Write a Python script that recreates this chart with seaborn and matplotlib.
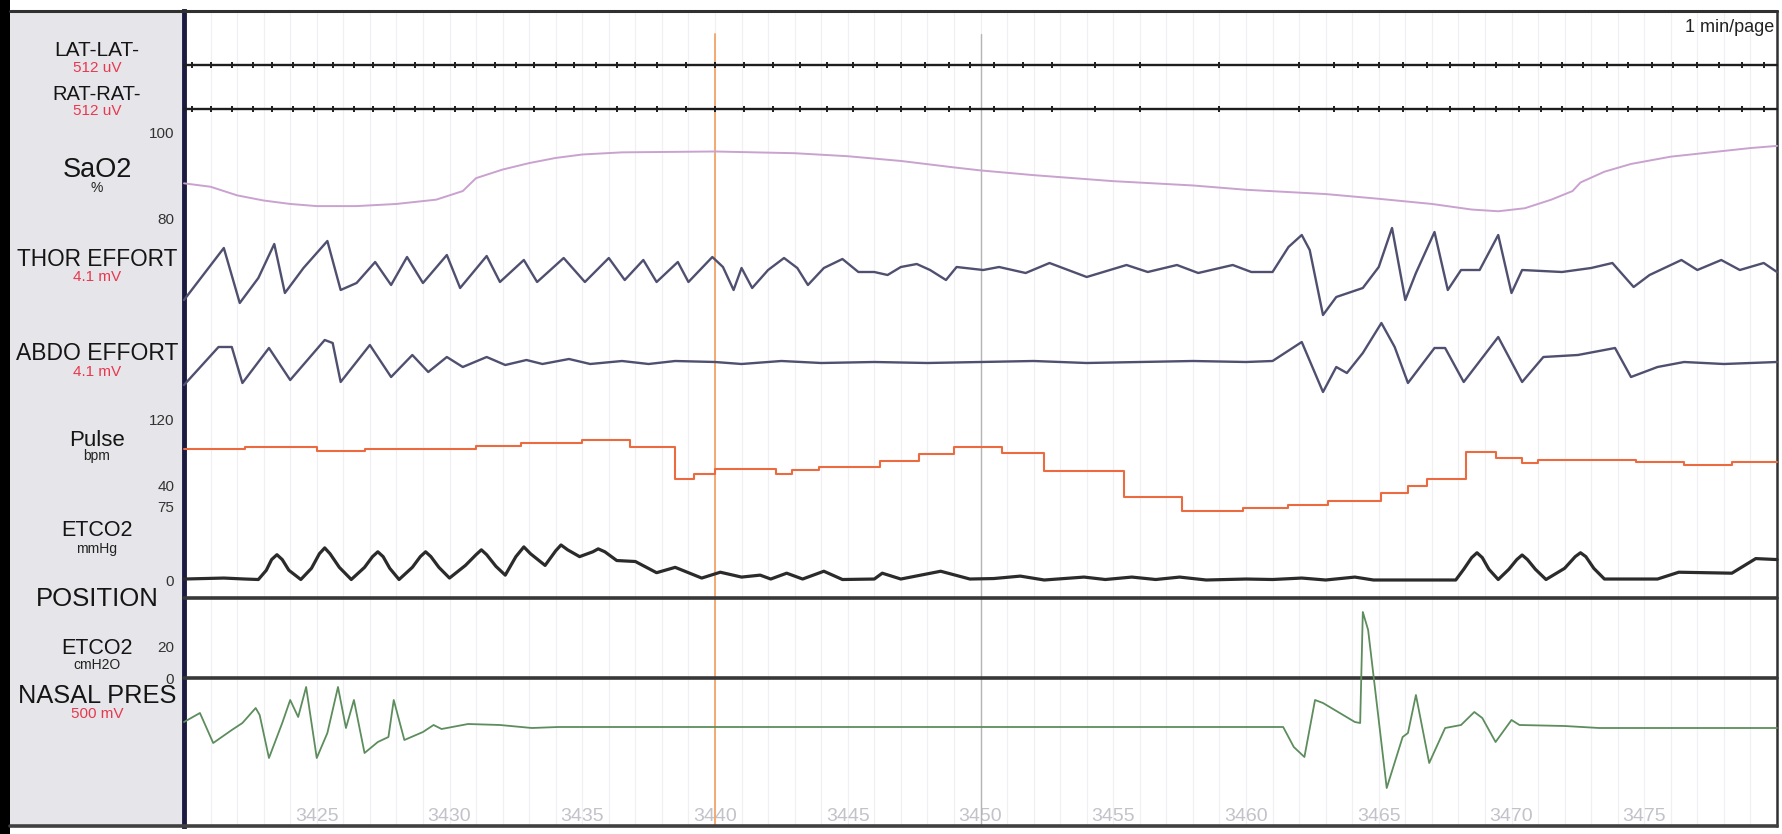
import numpy as np
import pandas as pd
import matplotlib
matplotlib.use("Agg")
import matplotlib.pyplot as plt
from matplotlib.patches import Rectangle
from matplotlib.lines import Line2D
import seaborn as sns

# ------------------------------------------------------------------ data
x_ticks = [3425, 3430, 3435, 3440, 3445, 3450, 3455, 3460, 3465, 3470, 3475]
x_range = [3420, 3480]
cursor_times = [3440, 3450]

channel_names = ["LAT-LAT-", "RAT-RAT-", "SaO2", "THOR EFFORT", "ABDO EFFORT",
                 "Pulse", "ETCO2", "POSITION", "ETCO2", "NASAL PRES"]
channel_units = ["512 uV", "512 uV", "%", "4.1 mV", "4.1 mV",
                 "bpm", "mmHg", "", "cmH2O", "500 mV"]
unit_red = [True, True, False, True, True, False, False, False, False, True]

# ECG artefact blips seen on the leg EMG channels (s)
ecg_blip_t = [3420.3, 3421.0, 3421.8, 3422.6, 3423.3, 3424.1, 3424.9, 3425.6, 3426.4,
              3427.1, 3427.9, 3428.7, 3429.4, 3430.2, 3430.9, 3431.7, 3432.5, 3433.2,
              3434.0, 3434.7, 3435.5, 3436.3, 3437.0, 3437.8, 3438.9, 3440.0, 3441.1,
              3442.2, 3443.2, 3444.2, 3445.2, 3446.1, 3447.0, 3447.9, 3448.8, 3449.6,
              3450.5, 3451.6, 3452.7, 3454.3, 3456.0, 3459.0, 3462.0, 3463.3, 3464.2,
              3465.0, 3465.9, 3466.8, 3467.7, 3468.6, 3469.4, 3470.3, 3471.1, 3471.9,
              3472.7, 3473.6, 3474.4, 3475.3, 3476.1, 3477.0, 3477.8, 3478.7, 3479.5]

sao2_t = [3420.0, 3421.0, 3422.0, 3423.0, 3424.0, 3425.0, 3426.5, 3428.0, 3429.5, 3430.5,
          3431.0, 3432.0, 3433.0, 3434.0, 3435.0, 3436.5, 3440.0, 3443.0, 3445.0, 3447.0,
          3449.0, 3450.0, 3452.0, 3455.0, 3458.0, 3460.0, 3463.0, 3465.0, 3467.0, 3468.5,
          3469.5, 3470.5, 3471.5, 3472.3, 3472.6, 3473.5, 3474.5, 3476.0, 3477.5, 3479.0,
          3480.0]
sao2_v = [88.3, 87.5, 85.5, 84.3, 83.5, 83.0, 83.0, 83.5, 84.5, 86.5,
          89.5, 91.5, 93.0, 94.2, 95.0, 95.5, 95.7, 95.3, 94.6, 93.5,
          92.0, 91.3, 90.2, 88.8, 87.8, 86.8, 85.8, 84.7, 83.5, 82.2,
          81.8, 82.5, 84.5, 86.5, 88.5, 91.0, 92.8, 94.5, 95.5, 96.5,
          97.0]

thor_t = [3420.0, 3421.5, 3422.1, 3422.8, 3423.4, 3423.8, 3424.5, 3425.4, 3425.9, 3426.5,
          3427.2, 3427.8, 3428.4, 3429.0, 3429.9, 3430.4, 3431.4, 3431.9, 3432.8, 3433.3,
          3434.3, 3435.1, 3436.0, 3436.6, 3437.3, 3437.8, 3438.6, 3439.0, 3439.9, 3440.3,
          3440.7, 3441.0, 3441.4, 3442.0, 3442.6, 3443.1, 3443.5, 3444.1, 3444.8, 3445.4,
          3446.0, 3446.5, 3447.0, 3447.6, 3448.1, 3448.7, 3449.1, 3450.1, 3450.7, 3451.7,
          3452.6, 3454.0, 3455.5, 3456.3, 3457.4, 3458.2, 3459.5, 3460.2, 3461.0, 3461.6,
          3462.1, 3462.4, 3462.9, 3463.4, 3464.4, 3465.0, 3465.5, 3466.0, 3466.4, 3467.1,
          3467.6, 3468.1, 3468.8, 3469.5, 3470.0, 3470.4, 3471.9, 3473.0, 3473.8, 3474.6,
          3475.2, 3476.4, 3477.0, 3477.9, 3478.6, 3479.5, 3480.0]
thor_v = [-1.5, 1.1, -1.65, -0.4, 1.3, -1.15, 0.1, 1.45, -1.0, -0.65,
          0.4, -0.75, 0.65, -0.65, 0.75, -0.9, 0.7, -0.6, 0.5, -0.6,
          0.6, -0.6, 0.6, -0.5, 0.5, -0.6, 0.4, -0.6, 0.65, 0.15,
          -1.0, 0.1, -0.9, 0.0, 0.6, 0.1, -0.75, 0.1, 0.55, -0.1,
          -0.1, -0.25, 0.15, 0.3, 0.0, -0.5, 0.15, 0.0, 0.15, -0.15,
          0.35, -0.35, 0.25, -0.1, 0.25, -0.15, 0.25, -0.1, -0.1, 1.15,
          1.75, 1.0, -2.25, -1.35, -0.9, 0.15, 2.1, -1.5, -0.15, 1.9,
          -1.0, 0.0, 0.0, 1.75, -1.15, 0.0, -0.1, 0.1, 0.35, -0.85,
          -0.25, 0.5, 0.0, 0.5, 0.0, 0.35, -0.1]

abdo_t = [3420.0, 3421.3, 3421.8, 3422.2, 3423.2, 3424.0, 3425.3, 3425.6, 3425.9, 3427.0,
          3427.8, 3428.6, 3429.2, 3429.9, 3430.5, 3431.4, 3432.1, 3432.9, 3433.5, 3434.5,
          3435.3, 3436.5, 3437.5, 3438.5, 3440.0, 3441.0, 3442.5, 3444.0, 3446.0, 3448.0,
          3450.0, 3452.0, 3454.0, 3456.0, 3458.0, 3460.0, 3461.0, 3462.1, 3462.9, 3463.4,
          3463.8, 3464.4, 3465.1, 3465.6, 3466.1, 3467.1, 3467.5, 3468.2, 3469.5, 3470.4,
          3471.2, 3472.5, 3473.9, 3474.5, 3475.5, 3476.5, 3478.0, 3480.0]
abdo_v = [-1.15, 0.75, 0.75, -1.05, 0.7, -0.9, 1.1, 0.95, -1.0, 0.85,
          -0.75, 0.35, -0.5, 0.25, -0.25, 0.25, -0.15, 0.1, -0.1, 0.15,
          -0.1, 0.05, -0.1, 0.05, 0.0, -0.1, 0.05, -0.05, 0.0, -0.05,
          0.0, 0.05, -0.05, 0.0, 0.05, 0.0, 0.05, 1.0, -1.5, -0.25,
          -0.55, 0.45, 1.95, 0.75, -1.05, 0.7, 0.7, -1.0, 1.25, -1.0,
          0.25, 0.35, 0.7, -0.75, -0.25, 0.0, -0.1, 0.0]

pulse_t = [3420.0, 3422.3, 3425.0, 3426.8, 3431.0, 3432.7, 3435.0, 3436.8, 3438.5, 3439.2,
           3440.0, 3442.3, 3442.9, 3443.9, 3446.2, 3447.7, 3449.0, 3450.8, 3452.4, 3455.4,
           3457.6, 3459.9, 3461.6, 3463.1, 3465.1, 3466.1, 3466.8, 3468.3, 3469.4, 3470.4,
           3471.0, 3474.7, 3476.5, 3478.3, 3480.0]
pulse_v = [83.6, 86.0, 81.0, 83.6, 87.0, 91.0, 94.5, 86.0, 47.0, 53.0,
           59.0, 53.0, 58.0, 62.0, 69.0, 77.6, 86.0, 78.8, 57.0, 25.5,
           8.5, 12.0, 15.8, 20.6, 30.0, 38.8, 47.0, 80.0, 72.7, 66.7,
           70.0, 68.0, 64.0, 68.0, 68.0]

etco2_t = [3420.0, 3421.5, 3422.3, 3422.8, 3423.1, 3423.3, 3423.5, 3423.7, 3423.95, 3424.4,
           3424.8, 3425.1, 3425.3, 3425.5, 3425.85, 3426.3, 3426.8, 3427.1, 3427.3, 3427.5,
           3427.75, 3428.1, 3428.6, 3428.9, 3429.1, 3429.3, 3429.6, 3430.0, 3430.6, 3431.0,
           3431.2, 3431.4, 3431.75, 3432.1, 3432.5, 3432.8, 3433.05, 3433.6, 3434.0, 3434.2,
           3434.45, 3434.9, 3435.4, 3435.6, 3435.85, 3436.3, 3437.0, 3437.8, 3438.5, 3439.5,
           3440.2, 3441.0, 3441.7, 3442.1, 3442.7, 3443.3, 3444.1, 3444.8, 3446.0, 3446.3,
           3447.0, 3448.5, 3449.6, 3450.5, 3451.5, 3452.4, 3453.9, 3454.7, 3455.7, 3456.6,
           3457.5, 3458.5, 3460.0, 3461.0, 3462.1, 3463.0, 3464.1, 3464.8, 3467.9, 3468.2,
           3468.5, 3468.7, 3468.9, 3469.15, 3469.5, 3469.9, 3470.2, 3470.4, 3470.6, 3470.9,
           3471.3, 3472.0, 3472.4, 3472.6, 3472.8, 3473.1, 3473.5, 3475.5, 3476.3, 3478.3,
           3479.2, 3480.0]
etco2_v = [1, 2, 1, 0.5, 10, 21, 26, 21, 10, 0.5,
           12, 27, 33, 27, 13, 0.5, 13, 24, 29, 24,
           12, 0.5, 13, 24, 29, 24, 13, 2, 15, 26,
           31, 26, 14, 5, 24, 34, 27, 15, 30, 36,
           31, 24, 29, 32, 29, 20, 19, 7.5, 13, 2,
           8, 3, 5, 1, 7, 1, 9, 0.5, 1, 7,
           1, 9, 1, 1.5, 4, 0, 3, 0.5, 3, 0.5,
           3, 0, 1, 0.5, 2, 0, 3, 0, 0, 11,
           23, 28, 23, 11, 0.5, 11, 21, 25.7, 21, 11,
           0.5, 12, 24, 28, 24, 12, 1, 1, 8, 7,
           22, 21]

position_t = [3420.0, 3480.0]
position_v = [0.0, 0.0]
etco2_cm_t = [3420.0, 3480.0]
etco2_cm_v = [0.0, 0.0]

nasal_t = [3420.0, 3420.6, 3421.1, 3421.8, 3422.2, 3422.7, 3422.85, 3423.2, 3423.7, 3424.0,
           3424.3, 3424.6, 3425.0, 3425.4, 3425.8, 3426.1, 3426.4, 3426.8, 3427.3, 3427.7,
           3427.9, 3428.3, 3429.0, 3429.4, 3429.7, 3430.7, 3431.9, 3433.1, 3434.1, 3461.4,
           3461.8, 3462.2, 3462.6, 3462.9, 3464.1, 3464.3, 3464.4, 3464.6, 3465.3, 3465.9,
           3466.1, 3466.4, 3466.9, 3467.5, 3468.1, 3468.6, 3468.9, 3469.4, 3470.0, 3470.3,
           3472.0, 3473.3, 3480.0]
nasal_v = [25, 70, -80, -15, 20, 95, 60, -155, 20, 135,
           50, 200, -155, -30, 200, -5, 135, -130, -75, -50,
           135, -65, -25, 10, -10, 15, 10, -5, 0, 0,
           -100, -150, 135, 120, 25, 20, 575, 485, -305, -50,
           -30, 160, -180, -5, 10, 75, 45, -75, 35, 10,
           5, -5, -5]

# ------------------------------------------------------------------ style
sns.set_style("white")
FONT = ["Liberation Sans Narrow", "Liberation Sans", "DejaVu Sans"]
plt.rcParams["font.family"] = FONT

W, H = 1783, 834
fig = plt.figure(figsize=(W / 100, H / 100), dpi=100)
fig.patch.set_facecolor("white")


def box(x0, y0, x1, y1):
    return [x0 / W, 1 - y1 / H, (x1 - x0) / W, (y1 - y0) / H]


PX0, PX1, PY0, PY1 = 184, 1777, 11, 826

# frame decorations
fig.add_artist(Rectangle((10 / W, 1 - PY1 / H), (PX0 - 10) / W, (PY1 - PY0) / H,
                         transform=fig.transFigure, facecolor="#e6e6ea",
                         edgecolor="none", zorder=-2))
fig.add_artist(Rectangle((0, 0), 10 / W, 1, transform=fig.transFigure,
                         facecolor="black", edgecolor="none", zorder=5))
fig.add_artist(Line2D([10 / W, PX1 / W], [1 - PY0 / H] * 2, transform=fig.transFigure,
                      color="#303030", lw=2.2, zorder=5))
fig.add_artist(Line2D([10 / W, PX1 / W], [1 - PY1 / H] * 2, transform=fig.transFigure,
                      color="#404040", lw=2.6, zorder=5))

# background axes: grid, cursors, time labels
bg = fig.add_axes(box(PX0, PY0, PX1, PY1))
bg.set_facecolor("white")
bg.set_xlim(*x_range)
bg.set_ylim(0, 1)
bg.set_yticks([])
bg.set_xticks(np.arange(x_range[0], x_range[1] + 1, 1), minor=True)
bg.set_xticks(x_ticks)
bg.set_xticklabels([str(t) for t in x_ticks])
bg.grid(True, which="both", axis="x", color="#f0f0f4", lw=0.9)
bg.tick_params(axis="x", which="both", direction="in", length=0, pad=-13,
               labelsize=14, labelcolor="#c2c2ca")
for s in ["top", "bottom"]:
    bg.spines[s].set_visible(False)
bg.spines["left"].set_color("#1b1b40")
bg.spines["left"].set_linewidth(3.5)
bg.spines["right"].set_color("#303030")
bg.spines["right"].set_linewidth(1.8)
bg.axvline(cursor_times[1], ymax=0.972, color="#b5b5b5", lw=1.0)
bg.axvline(cursor_times[0], ymax=0.972, color="#f4a468", lw=1.3, zorder=10)


def channel(top, bottom, ylim, ticks=None):
    ax = fig.add_axes(box(PX0, top, PX1, bottom))
    ax.patch.set_alpha(0)
    ax.set_xlim(*x_range)
    ax.set_ylim(*ylim)
    for s in ax.spines.values():
        s.set_visible(False)
    ax.set_xticks([])
    if ticks:
        ax.set_yticks(ticks)
        ax.set_yticklabels([str(t) for t in ticks])
        ax.tick_params(axis="y", direction="out", length=3, width=1, color="#555555",
                       pad=4, labelsize=11, labelcolor="#333333")
    else:
        ax.set_yticks([])
    return ax


def trace(ax, t, v, color, lw, **kw):
    df = pd.DataFrame({"t": t, "v": v})
    sns.lineplot(data=df, x="t", y="v", ax=ax, color=color, linewidth=lw,
                 estimator=None, errorbar=None, sort=False, clip_on=False,
                 solid_joinstyle="round", **kw)
    ax.set_xlabel("")
    ax.set_ylabel("")


# LAT / RAT leg EMG
for top in (55, 99):
    ax = channel(top, top + 20, (-1, 1))
    trace(ax, x_range, [0, 0], "#1e1e1e", 1.7)
    sns.scatterplot(x=ecg_blip_t, y=[0] * len(ecg_blip_t), ax=ax, marker="|",
                    s=22, color="#1e1e1e", linewidth=1.4, clip_on=False)

ax = channel(133, 219, (80, 100), [80, 100])
trace(ax, sao2_t, sao2_v, "#c9a2cf", 1.4)

ax = channel(229, 311, (-2.05, 2.05))
trace(ax, thor_t, thor_v, "#4f4f70", 1.7)

ax = channel(321, 403, (-2.05, 2.05))
trace(ax, abdo_t, abdo_v, "#4f4f70", 1.7)

ax = channel(419, 485, (40, 120), [40, 120])
trace(ax, pulse_t, pulse_v, "#ec6a40", 1.5, drawstyle="steps-post")

ax = channel(507, 580, (0, 75), [0, 75])
trace(ax, etco2_t, etco2_v, "#2b2b2b", 2.3)

ax = channel(588, 608, (-1, 1))
trace(ax, position_t, position_v, "#383838", 2.6)

ax = channel(647, 678, (0, 20), [0, 20])
trace(ax, etco2_cm_t, etco2_cm_v, "#383838", 2.6)

ax = channel(677, 777, (-250, 250))
trace(ax, nasal_t, nasal_v, "#5d8d5d", 1.3)

# channel labels in the side panel
name_y = [51, 95, 170, 259, 354, 440, 531, 599, 648, 696]
unit_y = [68, 111, 188, 277, 372, 456, 549, None, 665, 714]
name_size = [15, 14.5, 19.5, 16.3, 16.5, 16, 15.5, 18.5, 15.5, 18.3]
LX = 97
for name, unit, red, ny, uy, ns in zip(channel_names, channel_units, unit_red,
                                       name_y, unit_y, name_size):
    fig.text(LX / W, 1 - ny / H, name, ha="center", va="center", fontsize=ns,
             color="#151515")
    if unit:
        fig.text(LX / W, 1 - uy / H, unit, ha="center", va="center",
                 fontsize=11 if red else 10,
                 color="#e8384f" if red else "#222222")

fig.text(1774 / W, 1 - 27 / H, "1 min/page", ha="right", va="center",
         fontsize=13, color="#222222")

fig.savefig("out.png", dpi=100, facecolor="white")
